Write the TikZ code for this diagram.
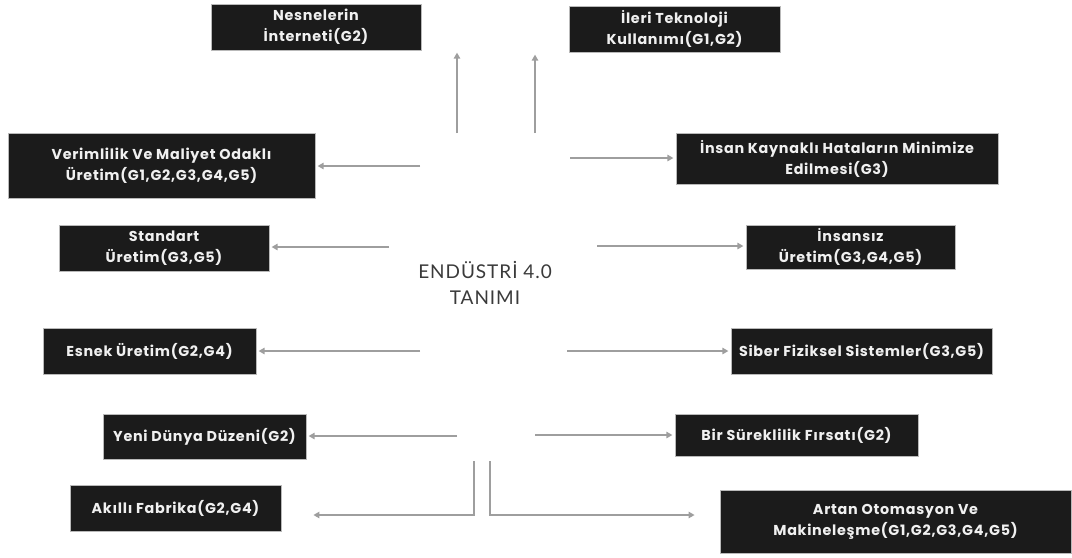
\documentclass[tikz,border=0pt]{standalone}
\usepackage{fontspec}
\setmainfont{Lato}[RawFeature=-liga]
\newfontfamily\kutufont{Poppins}[LetterSpace=5, RawFeature=-liga]
\newfontfamily\tanimfont{Lato}[LetterSpace=5, RawFeature=-liga]
\usepackage{tikz}
\usetikzlibrary{arrows.meta}

\definecolor{kutuRenk}{HTML}{1B1B1B}
\definecolor{okRenk}{HTML}{9E9E9E}
\definecolor{yaziRenk}{HTML}{3A3A3A}

\tikzset{
	kutu/.style={fill=kutuRenk, draw=gray!55, line width=0.3pt, text=white!94!black,
		font=\kutufont\bfseries\fontsize{10.2}{15}\selectfont, align=center, inner sep=0pt},
	ok/.style={draw=okRenk, line width=0.45mm, -{Triangle[length=1.5mm,width=1.6mm]}, shorten >=0.6mm}
}

\begin{document}
\begin{tikzpicture}[x=0.25mm, y=-0.25mm]
		\useasboundingbox (0,0) rectangle (1072,557);
		
		\node[font=\tanimfont\fontsize{13.5}{18.5}\selectfont, text=yaziRenk, align=center] (tanim) at (485,283) {ENDÜSTRİ 4.0\\TANIMI};
		
		\node[kutu, minimum width=52.5mm, minimum height=11.5mm] (Nesneler) at (316,27) {Nesnelerin\\İnterneti(G2)};
		\node[kutu, minimum width=52.75mm, minimum height=11.5mm] (Ileri) at (674.5,29) {İleri Teknoloji\\Kullanımı(G1,G2)};
		\node[kutu, minimum width=76.75mm, minimum height=16.25mm] (Verim) at (161.5,165.5) {Verimlilik Ve Maliyet Odaklı\\Üretim(G1,G2,G3,G4,G5)};
		\node[kutu, minimum width=80.5mm, minimum height=12.75mm] (Insan) at (837,158.5) {İnsan Kaynaklı Hataların Minimize\\Edilmesi(G3)};
		\node[kutu, minimum width=52.5mm, minimum height=11.5mm] (Standart) at (164,248) {Standart\\Üretim(G3,G5)};
		\node[kutu, minimum width=52.25mm, minimum height=11mm] (Insansiz) at (850.5,247) {İnsansız\\Üretim(G3,G4,G5)};
		\node[kutu, minimum width=53.25mm, minimum height=11.5mm] (Esnek) at (149.5,351) {Esnek Üretim(G2,G4)};
		\node[kutu, minimum width=65.25mm, minimum height=11.5mm] (Siber) at (861.5,351) {Siber Fiziksel Sistemler(G3,G5)};
		\node[kutu, minimum width=50.75mm, minimum height=11.25mm] (Yeni) at (204.5,436.5) {Yeni Dünya Düzeni(G2)};
		\node[kutu, minimum width=60.75mm, minimum height=10.5mm] (Bir) at (796.5,435) {Bir Süreklilik Fırsatı(G2)};
		\node[kutu, minimum width=52.75mm, minimum height=11.5mm] (Akilli) at (175.5,508) {Akıllı Fabrika(G2,G4)};
		\node[kutu, minimum width=87.75mm, minimum height=15.75mm] (Artan) at (895.5,521.5) {Artan Otomasyon Ve\\Makineleşme(G1,G2,G3,G4,G5)};
		
		\coordinate (Nesneler_p) at (457,133);
		\coordinate (Ileri_p) at (535,133);
		\coordinate (Verim_p) at (420,166);
		\coordinate (Insan_p) at (570,158);
		\coordinate (Standart_p) at (389,247);
		\coordinate (Insansiz_p) at (597,246);
		\coordinate (Esnek_p) at (420,351);
		\coordinate (Siber_p) at (567,351);
		\coordinate (Yeni_p) at (457,436);
		\coordinate (Bir_p) at (535,435);
		\coordinate (Akilli_p) at (474,461);
		\coordinate (Artan_p) at (490,461);
		\coordinate (Akilli_u) at (311,515);
		\coordinate (Artan_u) at (697,515);
		
		\draw[ok] (Nesneler_p) -- (Nesneler_p |- Nesneler.south);
		\draw[ok] (Ileri_p) -- (Ileri_p |- Ileri.south);
		\draw[ok] (Verim_p) -- (Verim_p -| Verim.east);
		\draw[ok] (Insan_p) -- (Insan_p -| Insan.west);
		\draw[ok] (Standart_p) -- (Standart_p -| Standart.east);
		\draw[ok] (Insansiz_p) -- (Insansiz_p -| Insansiz.west);
		\draw[ok] (Esnek_p) -- (Esnek_p -| Esnek.east);
		\draw[ok] (Siber_p) -- (Siber_p -| Siber.west);
		\draw[ok] (Yeni_p) -- (Yeni_p -| Yeni.east);
		\draw[ok] (Bir_p) -- (Bir_p -| Bir.west);
		\draw[ok] (Akilli_p) |- (Akilli_u);
		\draw[ok] (Artan_p) |- (Artan_u);
	\end{tikzpicture}
\end{document}
